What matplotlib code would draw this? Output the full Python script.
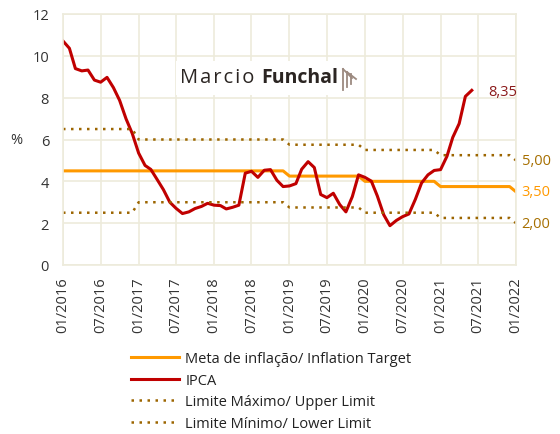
import matplotlib
matplotlib.use("Agg")
import matplotlib.pyplot as plt
from matplotlib.lines import Line2D
import pandas as pd

plt.rcParams["font.family"] = ["Open Sans", "DejaVu Sans"]

# Monthly, 01/2016 .. 01/2022
datas = pd.date_range("2016-01-01", "2022-01-01", freq="MS")

meta = [4.5] * 36 + [4.25] * 12 + [4.0] * 12 + [3.75] * 12 + [3.5]
limite_max = [6.5] * 12 + [6.0] * 24 + [5.75] * 12 + [5.5] * 12 + [5.25] * 12 + [5.0]
limite_min = [2.5] * 12 + [3.0] * 24 + [2.75] * 12 + [2.5] * 12 + [2.25] * 12 + [2.0]

ipca = [10.71, 10.36, 9.39, 9.28, 9.32, 8.84, 8.74, 8.97, 8.48, 7.87, 6.99, 6.29,
        5.35, 4.76, 4.57, 4.08, 3.60, 3.00, 2.71, 2.46, 2.54, 2.70, 2.80, 2.95,
        2.86, 2.84, 2.68, 2.76, 2.86, 4.39, 4.48, 4.19, 4.53, 4.56, 4.05, 3.75,
        3.78, 3.89, 4.58, 4.94, 4.66, 3.37, 3.22, 3.43, 2.89, 2.54, 3.27, 4.31,
        4.19, 4.01, 3.30, 2.40, 1.88, 2.13, 2.31, 2.44, 3.14, 3.92, 4.31, 4.52,
        4.56, 5.20, 6.10, 6.76, 8.06, 8.35]

cor_meta = "#FF9900"
cor_ipca = "#C00000"
cor_lim = "#9C6500"
cor_grid = "#EDEBDC"
cor_txt = "#333333"

fig = plt.figure(figsize=(5.6, 4.35), dpi=100)
ax = fig.add_axes([63 / 560, 1 - 266 / 435, (516 - 63) / 560, (266 - 15) / 435])

ax.plot(datas, meta, color=cor_meta, lw=2.2, label="Meta de inflação/ Inflation Target")
ax.plot(datas[:len(ipca)], ipca, color=cor_ipca, lw=2.2, label="IPCA")
ax.plot(datas, limite_max, color=cor_lim, lw=1.8, ls=(0, (1, 2.2)), label="Limite Máximo/ Upper Limit")
ax.plot(datas, limite_min, color=cor_lim, lw=1.8, ls=(0, (1, 2.2)), label="Limite Mínimo/ Lower Limit")

ax.set_xlim(datas[0], datas[-1])
ax.set_ylim(0, 12)
ax.set_yticks(range(0, 13, 2))
ticks = datas[::6]
ax.set_xticks(ticks)
ax.set_xticklabels([d.strftime("%m/%Y") for d in ticks], rotation=90)
ax.tick_params(length=0, labelsize=10.5, colors=cor_txt)
ax.tick_params(axis="y", pad=10)
ax.tick_params(axis="x", pad=8)
ax.grid(True, color=cor_grid, lw=1.2)
for s in ax.spines.values():
    s.set_color(cor_grid)
    s.set_linewidth(1.2)
ax.set_axisbelow(True)
fig.text(16 / 560, 1 - 140 / 435, "%", fontsize=10.5, color=cor_txt, ha="center", va="center")

# rotulos finais
ax.annotate("8,35", (datas[len(ipca) - 1], ipca[-1]), xytext=(12, -1), textcoords="offset points",
            color="#8B1A1A", fontsize=10.5, va="center")
ax.annotate("5,00", (datas[-1], limite_max[-1]), xytext=(4, 0), textcoords="offset points",
            color="#A66F00", fontsize=10.5, va="center", annotation_clip=False)
ax.annotate("3,50", (datas[-1], meta[-1]), xytext=(4, 0), textcoords="offset points",
            color=cor_meta, fontsize=10.5, va="center", annotation_clip=False)
ax.annotate("2,00", (datas[-1], limite_min[-1]), xytext=(4, 0), textcoords="offset points",
            color="#A66F00", fontsize=10.5, va="center", annotation_clip=False)

# logo
fig.patches.append(plt.Rectangle((176 / 560, 1 - 96 / 435), 186 / 560, 34 / 435,
                                 transform=fig.transFigure, facecolor="white", edgecolor="none"))
fig.text(180 / 560, 1 - 78 / 435, "\u200a".join("Marcio"), fontsize=14.5, color="#2B2522",
         va="center")
fig.text(261 / 560, 1 - 78 / 435, "Funchal", fontsize=14, color="#2B2522", va="center",
         fontweight="bold")
icone = [((343, 70), (343, 91)), ((347, 73), (347, 88)), ((343, 70), (352, 79)),
         ((347, 73), (356, 80)), ((351, 75), (351, 85))]
for (x0, y0), (x1, y1) in icone:
    fig.lines.append(Line2D([x0 / 560, x1 / 560], [1 - y0 / 435, 1 - y1 / 435],
                            transform=fig.transFigure, color="#9C8A80", lw=1.3))

fig.legend(loc="upper left", bbox_to_anchor=(124 / 560, 1 - 345 / 435), frameon=False,
           fontsize=10.5, handlelength=3.3, handletextpad=0.4, labelspacing=0.45,
           borderpad=0, labelcolor="#222222")

fig.savefig("out.png", dpi=100)
